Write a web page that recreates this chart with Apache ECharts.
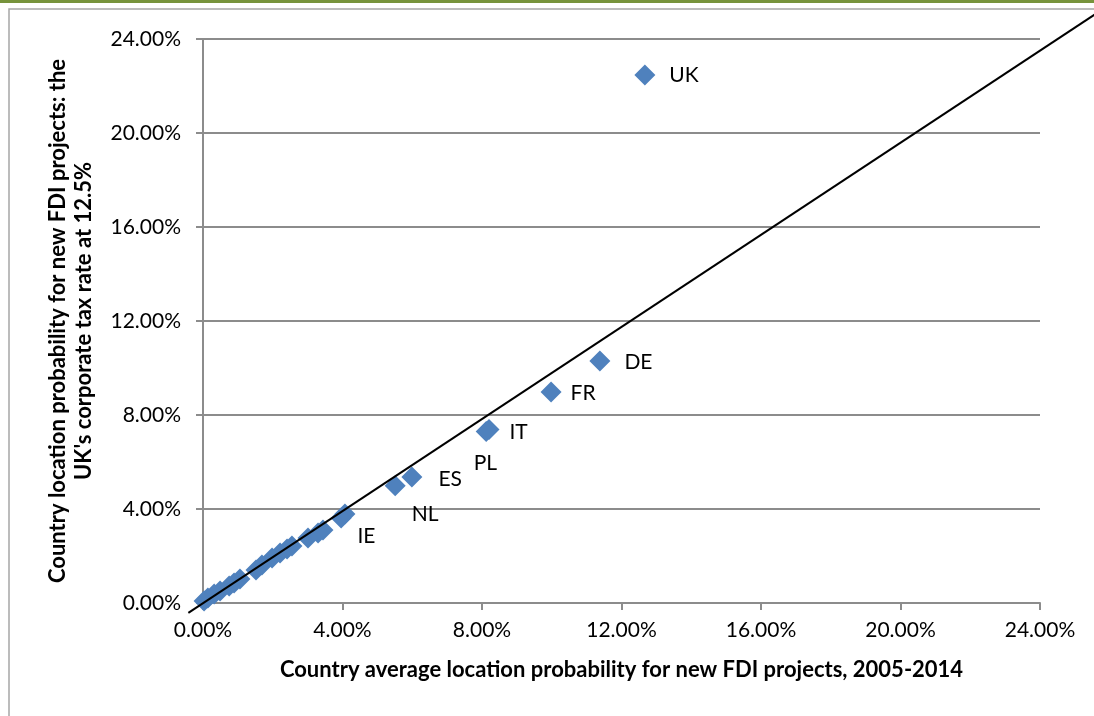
<!DOCTYPE html>
<html>
<head>
<meta charset="utf-8">
<title>FDI location probability</title>
<script src="https://cdn.jsdelivr.net/npm/echarts@6/dist/echarts.min.js"></script>
<style>
    html, body { margin: 0; padding: 0; background: #fff; }
    #chart { width: 1094px; height: 716px; }
</style>
</head>
<body>
<div id="chart"></div>
<script>
// country codes (empty = unlabelled point)
var countries = ['UK', 'DE', 'FR', 'IT', 'PL', 'ES', 'NL', 'IE',
    '', '', '', '', '', '', '', '', '', '', '', '', '', '', '', '', ''];
// average location probability 2005-2014 (%)
var avgProb = [12.67, 11.38, 9.98, 8.20, 8.12, 5.99, 5.51, 4.07,
    3.96, 3.44, 3.30, 3.01, 2.55, 2.41, 2.21, 1.98, 1.69, 1.52, 1.06, 0.89, 0.75, 0.49, 0.32, 0.14, 0.03];
// probability with UK corporate tax at 12.5% (%)
var taxProb = [22.47, 10.30, 8.98, 7.38, 7.30, 5.36, 4.99, 3.79,
    3.62, 3.11, 2.98, 2.77, 2.43, 2.30, 2.13, 1.91, 1.62, 1.40, 1.02, 0.85, 0.72, 0.51, 0.38, 0.21, 0.09];
// reference line end points (runs past the plot area)
var lineX = [-0.42, 25.6];
var lineY = [-0.42, 25.07];

function $(fn) {
    if (typeof fn === 'function') { document.addEventListener('DOMContentLoaded', fn); }
}
// small deep merge, jQuery is not around offline
$.extend = function (target) {
    for (var i = 1; i < arguments.length; i++) {
        merge(target, arguments[i]);
    }
    return target;
    function merge(t, s) {
        Object.keys(s).forEach(function (k) {
            var v = s[k];
            if (v && typeof v === 'object' && !Array.isArray(v)) {
                if (!t[k] || typeof t[k] !== 'object') { t[k] = {}; }
                merge(t[k], v);
            } else {
                t[k] = v;
            }
        });
    }
};

$(function () {
    "use strict";
    initialize();
    function initialize() {
        loadScatter();
    }

    function loadScatter() {
        var font = 'Lato, "Open Sans", sans-serif';
        // label nudges so the codes sit like in the original
        var labelOffset = {
            UK: [0, 0], DE: [0, 1], FR: [-5, 1], IT: [-4, 3],
            PL: [-37, 32], ES: [2, 2], NL: [-8, 28], IE: [-12, 22]
        };

        var points = avgProb.map(function (x, i) {
            var name = countries[i];
            return {
                value: [x, taxProb[i]],
                name: name,
                label: {
                    show: name !== '',
                    offset: labelOffset[name] || [0, 0]
                }
            };
        });

        var axisCommon = {
            type: 'value',
            min: 0,
            max: 24,
            interval: 4,
            axisLine: { show: true, lineStyle: { color: '#8c8c8c', width: 2 } },
            axisTick: { show: true, inside: false, length: 7, lineStyle: { color: '#8c8c8c', width: 2 } },
            axisLabel: {
                color: '#000',
                fontFamily: font,
                fontSize: 21,
                formatter: function (v) { return v.toFixed(2) + '%'; }
            },
            nameLocation: 'middle',
            nameTextStyle: { color: '#000', fontFamily: font, fontSize: 22, fontWeight: 'bold' }
        };

        var option = {
            animation: false,
            backgroundColor: '#fff',
            grid: { left: 203, right: 54, top: 39, bottom: 113 },
            graphic: [
                { type: 'rect', shape: { x: 0, y: 0, width: 1094, height: 3 }, style: { fill: '#77933c' } },
                { type: 'rect', shape: { x: 9, y: 9, width: 1100, height: 720 }, style: { fill: 'none', stroke: '#a6a6a6', lineWidth: 1.5 } }
            ],
            xAxis: $.extend({}, axisCommon, {
                name: 'Country average location probability for new FDI projects, 2005-2014',
                nameGap: 56,
                splitLine: { show: false },
                axisLabel: { margin: 17 }
            }),
            yAxis: $.extend({}, axisCommon, {
                name: "Country location probability for new FDI projects: the\nUK's corporate tax rate at 12.5%",
                nameGap: 106,
                nameTextStyle: { lineHeight: 26 },
                splitLine: { show: true, lineStyle: { color: '#8c8c8c', width: 2 } },
                axisLabel: { margin: 22 }
            }),
            series: [
                {
                    type: 'scatter',
                    symbol: 'diamond',
                    symbolSize: 21,
                    itemStyle: { color: '#4f81bd', opacity: 1 },
                    label: {
                        position: 'right',
                        distance: 14,
                        color: '#000',
                        fontFamily: font,
                        fontSize: 21,
                        formatter: '{b}'
                    },
                    data: points,
                    z: 3
                },
                {
                    // straight reference line through the axis scales
                    type: 'custom',
                    clip: false,
                    data: [[lineX[0], lineY[0], lineX[1], lineY[1]]],
                    renderItem: function (params, api) {
                        var p1 = api.coord([api.value(0), api.value(1)]);
                        var p2 = api.coord([api.value(2), api.value(3)]);
                        return {
                            type: 'line',
                            shape: { x1: p1[0], y1: p1[1], x2: p2[0], y2: p2[1] },
                            style: { stroke: '#000', lineWidth: 2 }
                        };
                    },
                    z: 4
                }
            ]
        };

        var chart = echarts.init(document.getElementById('chart'));
        chart.setOption(option);
    }
});
</script>
</body>
</html>
